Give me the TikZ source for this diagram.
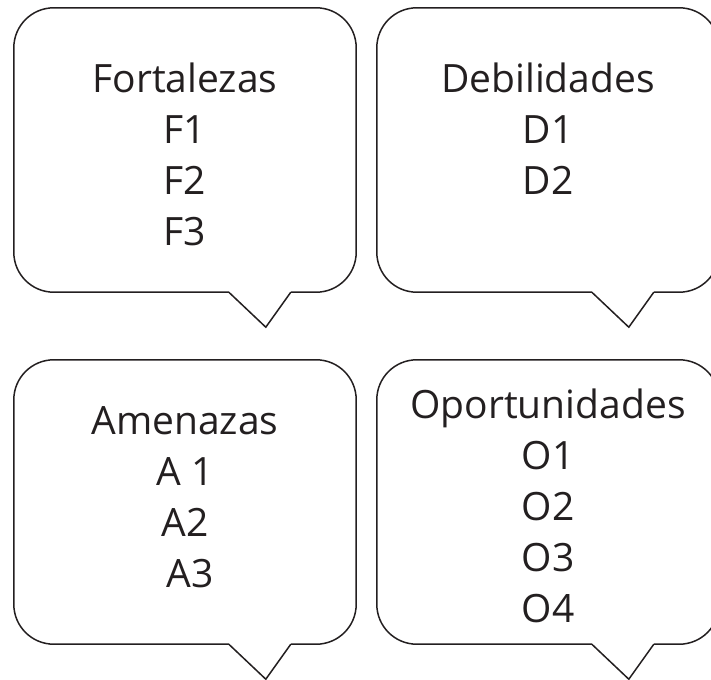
\documentclass[tikz,border=0pt]{standalone}
\usepackage{fontspec}
\setmainfont{Open Sans}
\usepackage{tikz}
\usetikzlibrary{positioning, calc}
\definecolor{inktext}{RGB}{35, 31, 32}

\begin{document}
\begin{tikzpicture}[x=1pt, y=-1pt,
    bubblebox/.style={draw=none, minimum width=342pt, minimum height=284pt, inner sep=0pt},
    bubbleline/.style={draw=inktext, line width=1.5pt, rounded corners=40pt},
    tailline/.style={draw=inktext, line width=1.5pt, line join=miter},
    bubbletext/.style={align=center, anchor=north, inner sep=0pt, text=inktext, font=\fontsize{39}{51}\selectfont}
]
    \useasboundingbox (0,0) rectangle (711,679);
    \clip (0,0) rectangle (711,679);

    % Cajas
    \node (fort) [bubblebox] at (185,150) {};
    \node (debil) [bubblebox] at (548,150) {};
    \node (amen) [bubblebox] at (185,502) {};
    \node (oport) [bubblebox] at (548,502) {};

    % Globos
    \foreach \b in {fort, debil, amen, oport} {
        \draw [bubbleline] ($(\b.south west)+(277,0)$) -- (\b.south east) -- (\b.north east)
            -- (\b.north west) -- (\b.south west) -- ($(\b.south west)+(215,0)$);
        \draw [tailline] ($(\b.south west)+(215,0)$) -- ($(\b.south west)+(252,35)$)
            -- ($(\b.south west)+(277,0)$);
    }

    % Textos
    \node (fortxt) [bubbletext] at ($(fort.north)+(0,55)$) {Fortalezas\\ F1\\ F2\\ F3};
    \node (debtxt) [bubbletext] at ($(debil.north)+(0,55)$) {Debilidades\\ D1\\ D2};
    \node (amentxt) [bubbletext] at ($(amen.north)+(0,47)$) {Amenazas\\ A 1\\ A2\\ ~A3};
    \node (oportxt) [bubbletext] at ($(oport.north)+(0,29)$) {Oportunidades\\ O1\\ O2\\ O3\\ O4};
\end{tikzpicture}
\end{document}
